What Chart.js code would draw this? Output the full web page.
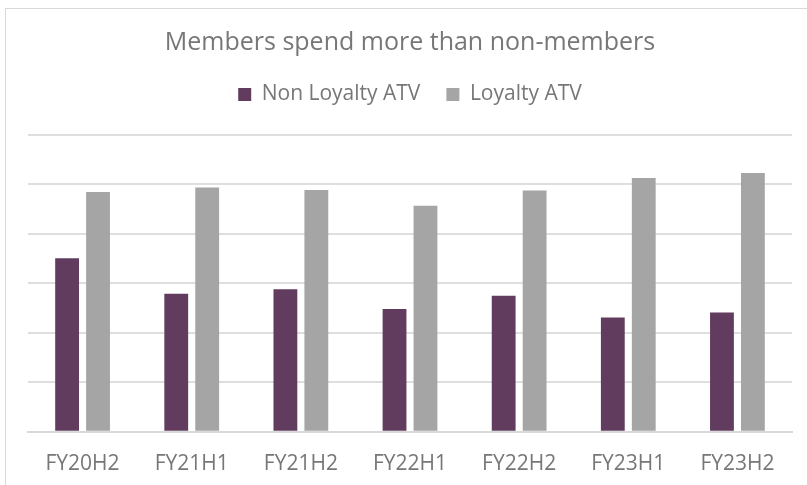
<!DOCTYPE html>
<html>
<head>
<meta charset="utf-8">
<script src="https://cdn.jsdelivr.net/npm/chart.js@4"></script>
<style>
  html, body { margin: 0; padding: 0; background: #fff; }
  #wrap { position: relative; width: 807px; height: 485px; }
  #frame { position: absolute; left: 5px; top: 8px; right: -5px; bottom: -5px; border-left: 1px solid #d9d9d9; border-top: 1px solid #d9d9d9; pointer-events: none; }
</style>
</head>
<body>
<div id="wrap">
  <canvas id="atvChart" width="807" height="485"></canvas>
  <div id="frame"></div>
</div>
<script>
  const periods = ['FY20H2', 'FY21H1', 'FY21H2', 'FY22H1', 'FY22H2', 'FY23H1', 'FY23H2'];
  const nonLoyaltyAtv = [3.51, 2.79, 2.88, 2.48, 2.75, 2.31, 2.41];
  const loyaltyAtv = [4.85, 4.94, 4.89, 4.57, 4.88, 5.13, 5.23];

  const textGrey = '#777777';

  // push plot area down below the legend
  const legendGap = {
    id: 'legendGap',
    beforeInit(chart) {
      const fit = chart.legend.fit;
      chart.legend.fit = function () {
        fit.bind(chart.legend)();
        this.height += 20;
      };
    }
  };

  new Chart(document.getElementById('atvChart'), {
    type: 'bar',
    data: {
      labels: periods,
      datasets: [
        { label: 'Non Loyalty ATV', data: nonLoyaltyAtv, backgroundColor: '#613c5f' },
        { label: 'Loyalty ATV', data: loyaltyAtv, backgroundColor: '#a5a5a5' }
      ]
    },
    plugins: [legendGap],
    options: {
      responsive: false,
      animation: false,
      datasets: { bar: { categoryPercentage: 0.567, barPercentage: 0.77 } },
      layout: { padding: { left: 28, right: 15, top: 0, bottom: -4 } },
      plugins: {
        title: {
          display: true,
          text: 'Members spend more than non-members',
          color: textGrey,
          font: { family: 'Open Sans', size: 25, weight: 'normal' },
          padding: { top: 28, bottom: 0 }
        },
        legend: {
          position: 'top',
          labels: {
            color: textGrey,
            font: { family: 'Open Sans', size: 21 },
            boxWidth: 13,
            boxHeight: 13,
            padding: 26
          }
        },
        tooltip: { enabled: false }
      },
      scales: {
        x: {
          grid: { display: false },
          border: { color: '#d9d9d9', width: 2 },
          ticks: {
            color: textGrey,
            font: { family: 'Open Sans', size: 21 },
            padding: 12,
            maxRotation: 0
          }
        },
        y: {
          min: 0,
          max: 6,
          ticks: { display: false, stepSize: 1 },
          grid: { color: '#dedede', lineWidth: 2, drawTicks: false },
          border: { display: false }
        }
      }
    }
  });
</script>
</body>
</html>
